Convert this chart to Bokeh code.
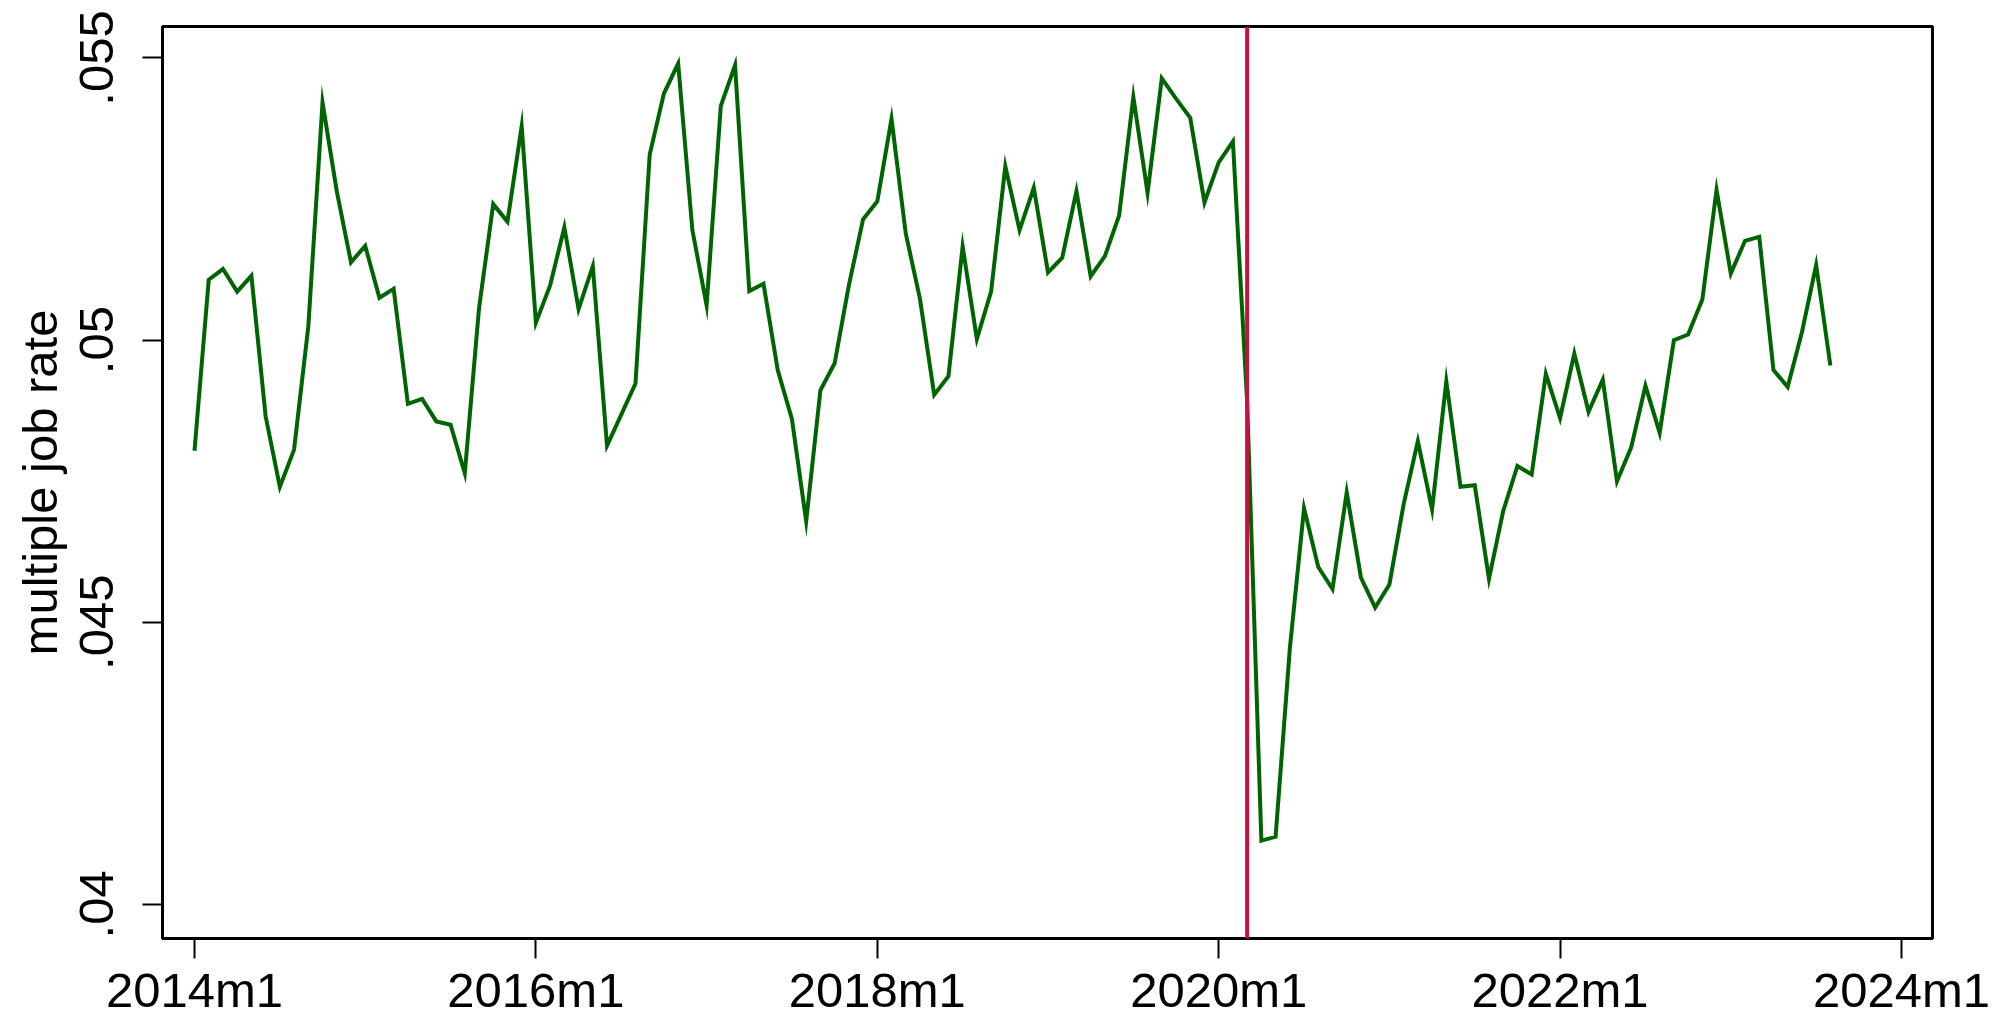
from bokeh.plotting import figure
from bokeh.models import Range1d, FixedTicker, Span
from bokeh.embed import file_html
from bokeh.resources import INLINE

# Monthly multiple job holding rate, 2014m1 .. 2023m8
rate = [
    0.04804, 0.05107, 0.05126, 0.05086, 0.05114, 0.04865, 0.04740, 0.04806,
    0.05024, 0.05421, 0.05264, 0.05138, 0.05167, 0.05075, 0.05091, 0.04887,
    0.04896, 0.04856, 0.04850, 0.04764, 0.05056, 0.05241, 0.05210, 0.05379,
    0.05031, 0.05097, 0.05200, 0.05055, 0.05131, 0.04813, 0.04868, 0.04923,
    0.05329, 0.05437, 0.05490, 0.05195, 0.05062, 0.05415, 0.05487, 0.05087,
    0.05100, 0.04947, 0.04860, 0.04679, 0.04911, 0.04959, 0.05097, 0.05214,
    0.05246, 0.05392, 0.05189, 0.05073, 0.04903, 0.04936, 0.05166, 0.05002,
    0.05086, 0.05308, 0.05195, 0.05270, 0.05120, 0.05146, 0.05264, 0.05113,
    0.05149, 0.05221, 0.05431, 0.05261, 0.05464, 0.05428, 0.05394, 0.05244,
    0.05315, 0.05352, 0.04890, 0.04113, 0.04120, 0.04453, 0.04702, 0.04598,
    0.04559, 0.04730, 0.04579, 0.04526, 0.04567, 0.04709, 0.04821, 0.04700,
    0.04927, 0.04740, 0.04743, 0.04577, 0.04697, 0.04777, 0.04762, 0.04940,
    0.04862, 0.04976, 0.04873, 0.04930, 0.04750, 0.04810, 0.04919, 0.04836,
    0.05000, 0.05010, 0.05072, 0.05266, 0.05118, 0.05176, 0.05183, 0.04947,
    0.04917, 0.05014, 0.05133, 0.04955,
]
# months counted from 2014m1 = 0
month = list(range(len(rate)))

x_tick_pos = [0, 24, 48, 72, 96, 120]
x_tick_labels = ["2014m1", "2016m1", "2018m1", "2020m1", "2022m1", "2024m1"]
y_tick_pos = [0.04, 0.045, 0.05, 0.055]
y_tick_labels = [".04", ".045", ".05", ".055"]
covid_month = 74  # 2020m3

FONT = "Liberation Sans"

p = figure(
    width=2002, height=1019,
    output_backend="svg", toolbar_location=None,
    x_range=Range1d(-2.25, 122.18),
    y_range=Range1d(0.039396, 0.055558),
    min_border_left=162, min_border_right=70,
    min_border_top=26, min_border_bottom=75,
    background_fill_color="white", border_fill_color="white",
)
p.grid.visible = False
p.outline_line_color = "black"
p.outline_line_width = 3

p.line(month, rate, line_color="#006400", line_width=4, line_join="miter")
p.add_layout(Span(location=covid_month, dimension="height",
                  line_color="#C8103C", line_width=4))

for ax in (p.xaxis[0], p.yaxis[0]):
    ax.axis_line_color = "black"
    ax.axis_line_width = 3
    ax.major_tick_line_width = 2
    ax.major_tick_line_color = "black"
    ax.major_tick_out = 20
    ax.major_tick_in = 0
    ax.minor_tick_out = 0
    ax.minor_tick_in = 0
    ax.major_label_text_font = FONT
    ax.major_label_text_font_size = "49px"
    ax.major_label_text_color = "black"
    ax.axis_label_text_font = FONT
    ax.axis_label_text_font_size = "49px"
    ax.axis_label_text_font_style = "normal"
    ax.axis_label_text_color = "black"

p.xaxis[0].ticker = FixedTicker(ticks=x_tick_pos)
p.xaxis[0].major_label_overrides = dict(zip(x_tick_pos, x_tick_labels))
p.xaxis[0].major_label_standoff = 4

p.yaxis[0].ticker = FixedTicker(ticks=y_tick_pos)
p.yaxis[0].major_label_overrides = dict(zip(y_tick_pos, y_tick_labels))
p.yaxis[0].major_label_orientation = "vertical"
p.yaxis[0].major_label_standoff = 29
p.yaxis[0].axis_label = "multiple job rate"
p.yaxis[0].axis_label_standoff = 11

open("out.html", "w").write(file_html(p, INLINE))
